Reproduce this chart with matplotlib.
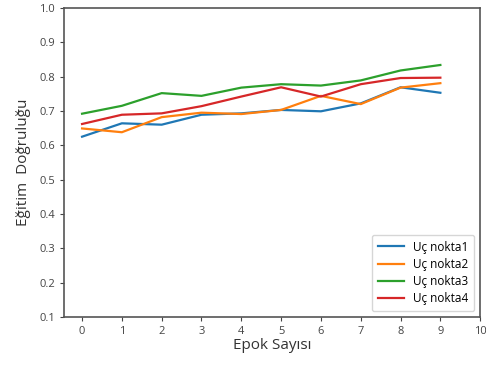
import matplotlib
matplotlib.use('Agg')
import matplotlib.pyplot as plt

epochs = list(range(10))
nokta1 = [0.625, 0.664, 0.660, 0.689, 0.693, 0.703, 0.699, 0.722, 0.769, 0.753]
nokta2 = [0.649, 0.638, 0.682, 0.695, 0.691, 0.703, 0.744, 0.720, 0.768, 0.781]
nokta3 = [0.692, 0.715, 0.752, 0.744, 0.768, 0.778, 0.774, 0.789, 0.818, 0.834]
nokta4 = [0.662, 0.689, 0.693, 0.714, 0.742, 0.769, 0.742, 0.778, 0.796, 0.797]
labels = ['Uç nokta1', 'Uç nokta2', 'Uç nokta3', 'Uç nokta4']

plt.rcParams['font.family'] = ['Open Sans', 'DejaVu Sans']

fig = plt.figure(figsize=(4.86, 3.65), dpi=100)
ax = fig.add_axes([0.132, 0.132, 0.856, 0.846])

for series, lab in zip([nokta1, nokta2, nokta3, nokta4], labels):
    ax.plot(epochs, series, label=lab, linewidth=1.6)

ax.set_xlim(-0.45, 10)
ax.set_ylim(0.1, 1.0)
ax.set_xticks(range(11))
ax.set_yticks([0.1, 0.2, 0.3, 0.4, 0.5, 0.6, 0.7, 0.8, 0.9, 1.0])
ax.tick_params(labelsize=8, colors='#444444', length=3)
for s in ax.spines.values():
    s.set_color('#555555')
    s.set_linewidth(1.2)

ax.set_xlabel('Epok Sayısı', fontsize=11, color='#333333', labelpad=1)
ax.set_ylabel('Eğitim  Doğruluğu', fontsize=11, color='#333333', labelpad=6)
ax.legend(loc='lower right', fontsize=8.5, handlelength=2.2,
          labelspacing=0.35, borderpad=0.5)

fig.savefig('out.png', dpi=100)
